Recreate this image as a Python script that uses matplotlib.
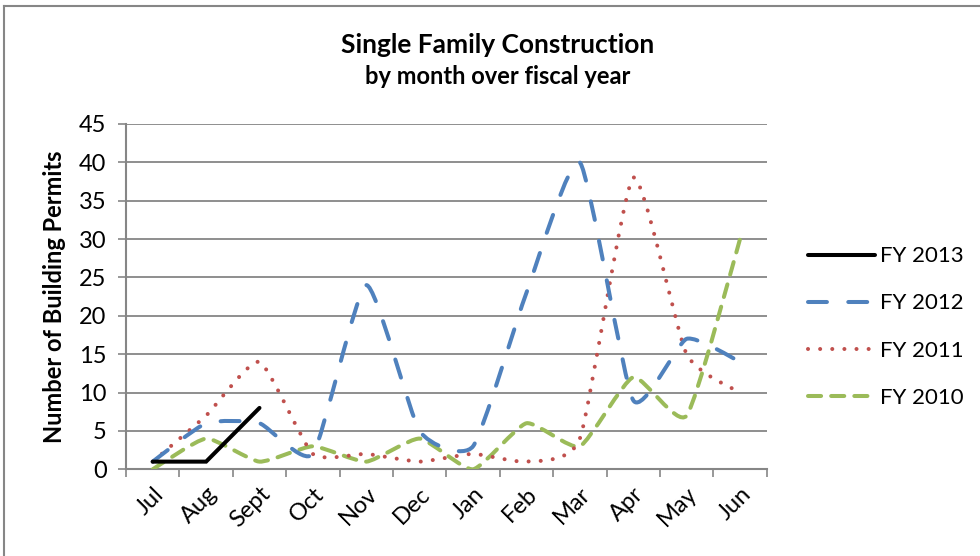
import numpy as np
import matplotlib
matplotlib.use("Agg")
import matplotlib.pyplot as plt
from matplotlib.path import Path
from matplotlib.patches import PathPatch
from matplotlib.lines import Line2D

plt.rcParams['font.family'] = ['Lato', 'DejaVu Sans']

months = ["Jul", "Aug", "Sept", "Oct", "Nov", "Dec", "Jan", "Feb", "Mar", "Apr", "May", "Jun"]
fy2013 = [1, 1, 8]
fy2012 = [1, 6, 6, 2, 24, 5, 3, 23, 40, 9, 17, 14]
fy2011 = [1, 7, 14, 2, 2, 1, 2, 1, 4, 38, 15, 10]
fy2010 = [0, 4, 1, 3, 1, 4, 0, 6, 3, 12, 7, 30]

BLUE = "#4F81BD"
RED = "#C0504D"
GREEN = "#9BBB59"
GRID = "#868686"
LW = 2.9
K = 0.09  # smoothing strength


def smooth_path(xs, ys):
    # bezier through the points, like excel's "smoothed line"
    n = len(xs)
    verts = [(xs[0], ys[0])]
    codes = [Path.MOVETO]
    for i in range(n - 1):
        a = max(i - 1, 0)
        b = min(i + 2, n - 1)
        c1 = (xs[i] + (xs[i + 1] - xs[a]) * K, ys[i] + (ys[i + 1] - ys[a]) * K)
        c2 = (xs[i + 1] - (xs[b] - xs[i]) * K, ys[i + 1] - (ys[b] - ys[i]) * K)
        verts += [c1, c2, (xs[i + 1], ys[i + 1])]
        codes += [Path.CURVE4] * 3
    return Path(verts, codes)


fig = plt.figure(figsize=(9.8, 5.56), dpi=100)
ax = fig.add_axes([126 / 980, 1 - 469.3 / 556, (766.7 - 126) / 980, (469.3 - 124) / 556])

x = np.arange(len(months))
styles = [
    (fy2012, BLUE, (0, (4.7, 5.3)), "FY 2012"),
    (fy2011, RED, (0, (0.01, 3.0)), "FY 2011"),
    (fy2010, GREEN, (0, (3.25, 2.5)), "FY 2010"),
]
for vals, col, ls, lab in reversed(styles):
    p = PathPatch(smooth_path(x[:len(vals)], vals), fill=False, edgecolor=col,
                  lw=LW, linestyle=ls, capstyle="round", joinstyle="round", zorder=3)
    ax.add_patch(p)
ax.plot(x[:len(fy2013)], fy2013, color="black", lw=LW, solid_capstyle="round",
        solid_joinstyle="miter", zorder=4)

ax.set_xlim(-0.5, 11.5)
ax.set_ylim(0, 45)
ax.set_yticks(range(0, 46, 5))
ax.set_xticks(x)
ax.set_xticklabels(months, rotation=45, ha="right", va="top", rotation_mode="anchor")
ax.set_xticks(np.arange(-0.5, 12, 1), minor=True)
ax.tick_params(axis="x", which="major", length=0, labelsize=17, pad=10)
ax.tick_params(axis="x", which="minor", length=6, width=1.2, color=GRID)
ax.tick_params(axis="y", length=6, width=1.2, color=GRID, labelsize=17, pad=8)
ax.grid(axis="y", color=GRID, lw=1.3)
ax.set_axisbelow(True)
for s in ["top", "right"]:
    ax.spines[s].set_visible(False)
for s in ["left", "bottom"]:
    ax.spines[s].set_color(GRID)
    ax.spines[s].set_linewidth(1.5)

fig.text(498 / 980, 1 - 45 / 556, "Single Family Construction", ha="center", va="center",
         fontsize=19, fontweight="bold")
fig.text(498 / 980, 1 - 76 / 556, "by month over fiscal year", ha="center", va="center",
         fontsize=17, fontweight="bold")
fig.text(55 / 980, 1 - 297 / 556, "Number of Building Permits", ha="center", va="center",
         rotation=90, fontsize=17, fontweight="bold")

handles = [Line2D([], [], color="black", lw=LW, solid_capstyle="round")]
for vals, col, ls, lab in styles:
    handles.append(Line2D([], [], color=col, lw=LW, linestyle=ls, dash_capstyle="round"))
fig.legend(handles, ["FY 2013", "FY 2012", "FY 2011", "FY 2010"], loc="center left",
           bbox_to_anchor=(808 / 980, 1 - 327 / 556), frameon=False, fontsize=16,
           handlelength=3.0, handletextpad=0.25, labelspacing=1.22, borderpad=0,
           borderaxespad=0)

# chart border (left and top edges visible in the crop)
fig.add_artist(Line2D([4 / 980, 4 / 980], [0, 1 - 6 / 556], color=GRID, lw=1.5))
fig.add_artist(Line2D([4 / 980, 1], [1 - 6 / 556, 1 - 6 / 556], color=GRID, lw=1.5))

fig.savefig("out.png", dpi=100)
